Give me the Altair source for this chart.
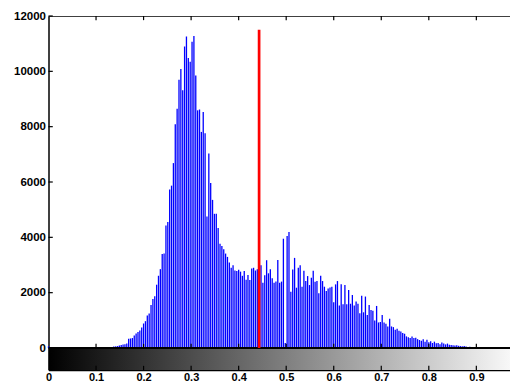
import altair as alt
import pandas as pd

# ---- data (256-bin intensity histogram) ----
COUNTS = (
    [60, 30, 25, 30, 35, 30, 25, 30, 35, 30, 30, 25, 30, 35, 30, 25, 30, 30, 35, 30, 25, 30, 30, 35, 30, 25, 30, 20]
    + [5, 0, 5, 10, 15, 20]
    + [40, 50, 60, 70, 90, 110, 130, 140, 160]
    + [330, 345, 360, 455, 527, 580, 635, 743, 886, 970, 1174, 1245, 1557, 1773]
    + [1868, 2288, 2611, 2850, 3400, 3420, 4430, 4550, 5725, 5868, 6683]
    + [8085, 8650, 9700, 10087, 9317, 10900, 11260, 10480, 10350, 11070, 11280, 9845, 8590, 8620, 7810, 8530, 7760]
    + [4755, 7030, 5965, 5354, 4850, 4850, 4335, 3770, 3690, 3570, 3413, 3293, 3090, 2900, 2990]
    + [2800, 2780, 2830, 2760, 2610, 2780, 2470, 2640, 2460, 2875, 2900, 2800, 2850, 2800]
    + [2994, 2360, 2634, 3173, 2700, 2850, 2520, 2360, 2400, 3180, 2360, 2400, 3950, 180, 4050, 4190]
    + [2037, 2840, 3257, 2180, 2900, 2994, 2216, 2790, 2420, 2600, 2275, 2540, 2790, 2395, 2420, 1976,
       2610, 2420, 2216, 2060, 2150, 2190, 2216, 1650, 2300, 2420, 1533, 2300, 1580, 2275, 1580, 2096,
       1600, 1916, 1533, 1680, 1600, 1258, 1890, 1290, 1860]
    + [1197, 1556, 1376, 1350, 995, 1520, 923, 940, 1197, 923, 873, 779, 1053, 779, 755, 658, 700, 622,
       600, 539, 515, 420, 390, 360, 420, 360, 370, 320, 290, 265, 320, 230, 300, 205, 240, 180, 230,
       170, 180, 140, 200, 160, 130, 160, 120]
    + [110, 100, 90, 100, 80, 70, 60, 70, 50, 40, 45, 30, 25, 20, 20, 15, 10, 10, 5, 5]
    + [0] * 20
)
N_BINS = len(COUNTS)
THRESHOLD = 0.443
THRESHOLD_TOP = 11500
X_LABELS = [0, 0.1, 0.2, 0.3, 0.4, 0.5, 0.6, 0.7, 0.8, 0.9]
X_TICKS = [0.1, 0.2, 0.3, 0.4, 0.5, 0.6, 0.7, 0.8, 0.9]
Y_TICKS = [0, 2000, 4000, 6000, 8000, 10000, 12000]
Y_MAX = 12000
BAND_BOTTOM = -795    # colour bar band below the histogram
X_MAX = 0.9708        # right edge of the visible (cropped) axes

FONT = "Liberation Sans"

hist = pd.DataFrame({
    "x": [i / (N_BINS - 1) for i in range(N_BINS)],
    "count": COUNTS,
    "base": [0] * N_BINS,
})

xs = alt.Scale(domain=[0, X_MAX], nice=False, zero=False)
ys = alt.Scale(domain=[BAND_BOTTOM, Y_MAX], nice=False, zero=False)
xa = alt.Axis(values=X_LABELS, format="~g", title=None, grid=False, ticks=False, tickSize=0,
              domain=True, domainColor="black", domainWidth=1.5, labelFont=FONT,
              labelFontSize=11, labelFontWeight="bold", labelColor="black",
              labelPadding=1, labelFlush=False)
ya = alt.Axis(values=Y_TICKS, format="d", title=None, grid=False, ticks=False, tickSize=0,
              domain=True, domainColor="black", domainWidth=1.5, labelFont=FONT,
              labelFontSize=11.5, labelFontWeight="bold", labelColor="black",
              labelPadding=3)


def X(f):
    return alt.X(f, type="quantitative", scale=xs, axis=xa)


def Y(f):
    return alt.Y(f, type="quantitative", scale=ys, axis=ya)


band = alt.Chart(pd.DataFrame({"x0": [0], "x1": [1], "y0": [BAND_BOTTOM], "y1": [0]})).mark_rect(
    clip=True,
    color=alt.Gradient(gradient="linear",
                       stops=[alt.GradientStop(color="black", offset=0),
                              alt.GradientStop(color="white", offset=1)],
                       x1=0, x2=1, y1=0, y2=0),
).encode(x=X("x0"), x2="x1", y=Y("y0"), y2="y1")

bars = alt.Chart(hist).mark_rule(color="#0000ff", strokeWidth=1.3).encode(
    x=X("x"), y=Y("count"), y2="base")

hlines = alt.Chart(pd.DataFrame({"x0": [0, 0], "x1": [1, 1], "y": [0, Y_MAX], "w": [2.0, 1.5]})).mark_rule(
    color="black", clip=True).encode(x=X("x0"), x2="x1", y=Y("y"),
                                     strokeWidth=alt.StrokeWidth("w:Q", scale=None))

tick_len = 150
xt_rows = []
for t in X_TICKS:
    xt_rows.append({"x": t, "y0": 0, "y1": tick_len})
    xt_rows.append({"x": t, "y0": Y_MAX, "y1": Y_MAX - tick_len})
    xt_rows.append({"x": t, "y0": BAND_BOTTOM, "y1": BAND_BOTTOM + tick_len})
xticks = alt.Chart(pd.DataFrame(xt_rows)).mark_rule(color="black", strokeWidth=1.2).encode(
    x=X("x"), y=Y("y0"), y2="y1")

yticks = alt.Chart(pd.DataFrame({"x0": [0] * len(Y_TICKS), "x1": [0.009] * len(Y_TICKS), "y": Y_TICKS})).mark_rule(
    color="black", strokeWidth=1.2).encode(x=X("x0"), x2="x1", y=Y("y"))

red = alt.Chart(pd.DataFrame({"x": [THRESHOLD], "y0": [0], "y1": [THRESHOLD_TOP]})).mark_rule(
    color="#ff0000", strokeWidth=2.7).encode(x=X("x"), y=Y("y0"), y2="y1")

chart = alt.layer(band, bars, hlines, xticks, yticks, red).properties(
    width=461.5, height=354,
    padding={"left": 40.5, "top": 8, "right": 0, "bottom": 11},
    autosize=alt.AutoSizeParams(type="none"),
).configure_view(strokeWidth=0)

chart.save("out.html", embed_options={"renderer": "svg", "actions": False})
